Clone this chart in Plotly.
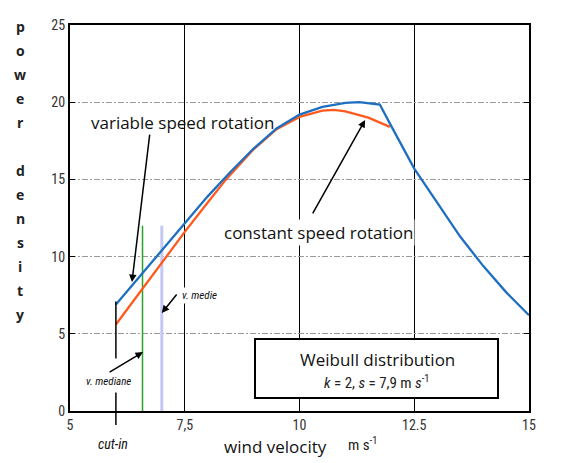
import plotly.graph_objects as go

# ---- data ----
wind_variable = [6.0, 6.5, 7.0, 7.5, 8.0, 8.5, 9.0, 9.5, 10.0, 10.5, 11.0, 11.3, 11.75,
                 12.0, 12.25, 12.5, 13.0, 13.5, 14.0, 14.5, 15.0]
power_variable = [6.9, 8.65, 10.4, 12.2, 13.9, 15.5, 17.0, 18.3, 19.2, 19.7, 19.95, 20.0, 19.85,
                  18.45, 17.1, 15.7, 13.5, 11.3, 9.4, 7.7, 6.2]

wind_constant = [6.0, 6.5, 7.0, 7.5, 8.0, 8.4, 9.0, 9.5, 10.0, 10.5, 10.75, 11.0, 11.5, 11.97]
power_constant = [5.6, 7.6, 9.6, 11.6, 13.5, 15.0, 16.95, 18.25, 19.05, 19.45, 19.5, 19.4, 19.0, 18.4]

v_cut_in = 6.0
v_median = 6.58
v_mean = 7.0
marker_height = [0, 12.0]

x_ticks = [5, 7.5, 10, 12.5, 15]
x_tick_labels = ["5", "7,5", "10", "12.5", "15"]
y_ticks = [0, 5, 10, 15, 20, 25]
y_tick_labels = ["0", "5", "10", "15", "20", "25"]

y_title_letters = list("power") + [""] + list("density")

# ---- figure ----
W, H = 569, 463
L, R, T, B = 70, 40, 25, 52
pw, ph = W - L - R, H - T - B

def px_x(px):  # pixel -> paper x
    return (px - L) / pw

def px_y(py):  # pixel -> paper y
    return (H - B - py) / ph

fig = go.Figure()

fig.add_trace(go.Scatter(x=[v_median, v_median], y=marker_height, mode="lines",
                         line=dict(color="#2ca02c", width=1.5), hoverinfo="skip"))
fig.add_trace(go.Scatter(x=[v_mean, v_mean], y=marker_height, mode="lines",
                         line=dict(color="#c3c8f5", width=3), hoverinfo="skip"))
fig.add_trace(go.Scatter(x=wind_constant, y=power_constant, mode="lines",
                         line=dict(color="#ff5a1e", width=2.3), name="constant"))
fig.add_trace(go.Scatter(x=wind_variable, y=power_variable, mode="lines",
                         line=dict(color="#1f6fc0", width=2.3), name="variable"))

shapes = []
# white patches that interrupt the vertical grid lines near the top
shapes.append(dict(type="rect", xref="paper", yref="paper", layer="between",
                   x0=px_x(100), x1=px_x(262), y0=px_y(100), y1=px_y(42),
                   fillcolor="white", line=dict(width=0)))
shapes.append(dict(type="rect", xref="paper", yref="paper", layer="between",
                   x0=px_x(325), x1=px_x(520), y0=px_y(77), y1=px_y(42),
                   fillcolor="white", line=dict(width=0)))
# cut-in marker
shapes.append(dict(type="line", xref="x", yref="y", x0=v_cut_in, x1=v_cut_in,
                   y0=7.1, y1=3.4, line=dict(color="black", width=1.5)))
shapes.append(dict(type="line", xref="paper", yref="paper",
                   x0=(v_cut_in - 5) / 10, x1=(v_cut_in - 5) / 10,
                   y0=1.2 / 25, y1=-0.9 / 25, line=dict(color="black", width=1.5)))
# Weibull box
shapes.append(dict(type="rect", xref="paper", yref="paper", layer="above",
                   x0=px_x(255), x1=px_x(498), y0=px_y(398), y1=px_y(339),
                   fillcolor="white", line=dict(color="black", width=2)))
fig.update_layout(shapes=shapes)

ann = []
txt_font = "Open Sans, Noto Sans, sans-serif"
narrow = "Liberation Sans Narrow, Roboto Condensed, Roboto, sans-serif"

def label(px, py, text, family, size, color="#111", bg=None):
    d = dict(x=px_x(px), y=px_y(py), xref="paper", yref="paper",
             xanchor="center", yanchor="middle",
             text=text, showarrow=False, font=dict(family=family, size=size, color=color))
    if bg:
        d["bgcolor"] = bg
    ann.append(d)

def arrow(x, y, ax, ay):
    ann.append(dict(x=x, y=y, ax=ax, ay=ay, xref="x", yref="y", axref="x", ayref="y",
                    text="", showarrow=True, arrowhead=2, arrowsize=1, arrowwidth=1.5,
                    arrowcolor="black"))

label(182, 122, "variable speed rotation", txt_font, 17)
arrow(6.35, 8.35, 6.74, 18.0)
label(318, 232, "constant speed rotation", txt_font, 17, bg="white")
arrow(11.43, 18.85, 10.27, 12.7)
label(199, 295, "<i>v. medie</i>", narrow, 11, bg="white")
arrow(7.0, 6.35, 7.35, 7.64)
label(108, 381, "<i>v. mediane</i>", narrow, 11, bg="white")
arrow(6.59, 3.82, 5.83, 2.46)
label(113, 444, "<i>cut-in</i>", narrow, 14)
label(275, 446, "wind velocity", txt_font, 17)
label(362, 444, "m s<sup>-1</sup>", narrow, 15, color="#222")
label(377, 359, "Weibull distribution", txt_font, 17)
label(377, 382, "<i>k</i> = 2, <i>s</i> = 7,9 m <i>s</i><sup>-1</sup>", narrow, 15, color="#222")
for i, ch in enumerate(y_title_letters):
    if ch:
        label(20, 26 + 24 * i, "<b>" + ch + "</b>", txt_font, 14, color="#222")
fig.update_layout(annotations=ann)

fig.update_layout(
    width=W, height=H,
    margin=dict(l=L, r=R, t=T, b=B),
    paper_bgcolor="white", plot_bgcolor="white",
    showlegend=False,
    xaxis=dict(range=[5, 15], tickvals=x_ticks, ticktext=x_tick_labels,
               showgrid=True, gridcolor="black", gridwidth=1, zeroline=False,
               showline=True, linecolor="black", linewidth=2, mirror="ticks",
               ticks="inside", ticklen=5, tickcolor="black",
               tickfont=dict(family=narrow, size=14, color="#333")),
    yaxis=dict(range=[0, 25], tickvals=y_ticks, ticktext=y_tick_labels,
               showgrid=True, gridcolor="#9a9a9a", gridwidth=1, griddash="6px,2px,2px,2px",
               zeroline=False,
               showline=True, linecolor="black", linewidth=2, mirror="ticks",
               ticks="inside", ticklen=5, tickcolor="black",
               tickfont=dict(family=narrow, size=14, color="#333")),
)

fig.write_html("out.html")
